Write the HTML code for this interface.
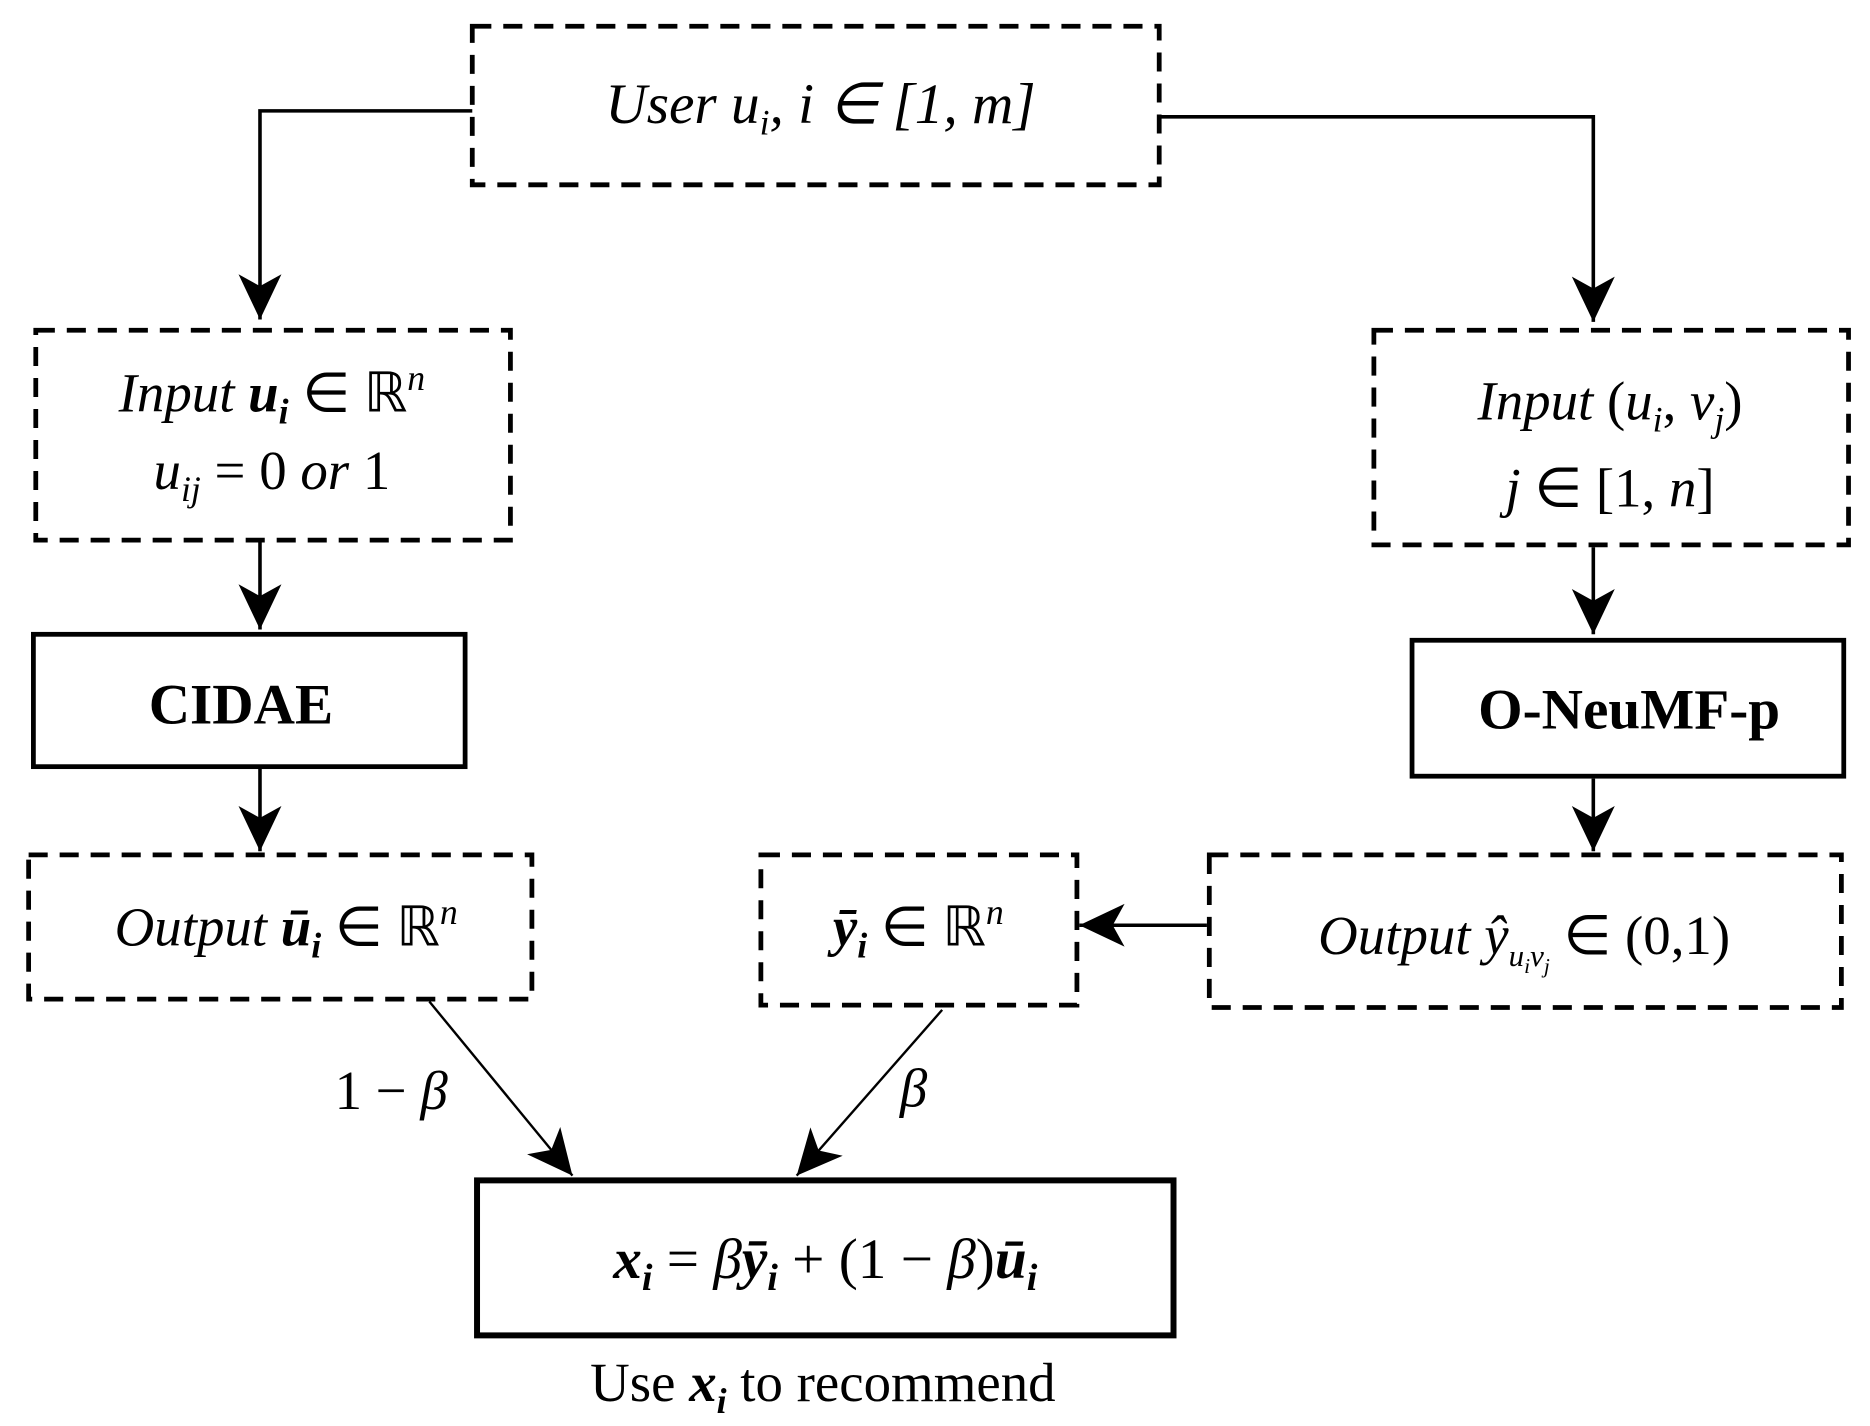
<!DOCTYPE html>
<html><head><meta charset="utf-8"><style>
html,body{margin:0;padding:0;background:#fff;}
svg{display:block}
text{font-family:"Liberation Serif",serif;fill:#000}
.i{font-style:italic}
</style></head><body>
<svg width="1870" height="1426" viewBox="0 0 1568 1196" preserveAspectRatio="none" xmlns="http://www.w3.org/2000/svg">
<defs>
<marker id="a" viewBox="0 0 20 20" refX="18" refY="10" markerWidth="20" markerHeight="20" markerUnits="userSpaceOnUse" orient="auto">
<path d="M0,0 L20,10 L0,20 L6,10 Z" fill="#000"/>
</marker>
<marker id="b" viewBox="0 0 40 40" refX="38" refY="20" markerWidth="40" markerHeight="40" markerUnits="userSpaceOnUse" orient="auto">
<path d="M0,2 L38,20 L0,38 L10,20 Z" fill="#000"/>
</marker>
</defs>
<g fill="none" stroke="#000" stroke-width="4" stroke-dasharray="16,10">
<rect x="396" y="22" width="576" height="133"/>
<rect x="30" y="277" width="398" height="176"/>
<rect x="1152" y="277" width="398" height="180"/>
<rect x="24" y="717" width="422" height="121"/>
<rect x="638" y="717" width="265" height="126"/>
<rect x="1014" y="717" width="530" height="128"/>
</g>
<g fill="none" stroke="#000" stroke-width="4">
<rect x="28" y="532" width="362" height="111"/>
<rect x="1184" y="537" width="362" height="114"/>
<rect x="400" y="990" width="584" height="130" stroke-width="5"/>
</g>
<g fill="none" stroke="#000" stroke-width="3">
<path d="M396,93 H218 V268" marker-end="url(#b)"/>
<path d="M972,98 H1336 V270" marker-end="url(#b)"/>
<path d="M218,455 V528" marker-end="url(#b)"/>
<path d="M1336,459 V532" marker-end="url(#b)"/>
<path d="M218,645 V714" marker-end="url(#b)"/>
<path d="M1336,653 V714" marker-end="url(#b)"/>
<path d="M1012,776 H905" marker-end="url(#b)"/>
<path d="M360,840 L480,986" stroke-width="2" marker-end="url(#b)"/>
<path d="M790,847 L668,986" stroke-width="2" marker-end="url(#b)"/>
</g>
<text x="688" y="103" font-size="48" text-anchor="middle" class="i">User u<tspan font-size="30" dy="10">i</tspan><tspan dy="-10">, i ∈ [1, m]</tspan></text>
<text x="228" y="345" font-size="46" text-anchor="middle"><tspan class="i">Input </tspan><tspan class="i" font-weight="bold">u</tspan><tspan class="i" font-weight="bold" font-size="30" dy="10">i</tspan><tspan dy="-10"> ∈ ℝ</tspan><tspan class="i" font-size="30" dy="-18">n</tspan></text>
<text x="228" y="410" font-size="46" text-anchor="middle"><tspan class="i">u</tspan><tspan class="i" font-size="30" dy="10">ij</tspan><tspan dy="-10"> = 0 </tspan><tspan class="i">or</tspan><tspan> 1</tspan></text>
<text x="1350" y="352" font-size="46" text-anchor="middle"><tspan class="i">Input </tspan><tspan>(</tspan><tspan class="i">u</tspan><tspan class="i" font-size="30" dy="10">i</tspan><tspan dy="-10">, </tspan><tspan class="i">v</tspan><tspan class="i" font-size="30" dy="10">j</tspan><tspan dy="-10">)</tspan></text>
<text x="1350" y="425" font-size="46" text-anchor="middle"><tspan class="i">j</tspan> ∈ [1, <tspan class="i">n</tspan>]</text>
<text x="202" y="607" font-size="48" font-weight="bold" text-anchor="middle">CIDAE</text>
<text x="1366" y="611" font-size="48" font-weight="bold" text-anchor="middle">O-NeuMF-p</text>
<text x="240" y="793" font-size="46" text-anchor="middle"><tspan class="i">Output </tspan><tspan class="i" font-weight="bold">ū</tspan><tspan class="i" font-weight="bold" font-size="30" dy="10">i</tspan><tspan dy="-10"> ∈ ℝ</tspan><tspan class="i" font-size="30" dy="-18">n</tspan></text>
<text x="770" y="793" font-size="46" text-anchor="middle"><tspan class="i" font-weight="bold">ȳ</tspan><tspan class="i" font-weight="bold" font-size="30" dy="10">i</tspan><tspan dy="-10"> ∈ ℝ</tspan><tspan class="i" font-size="30" dy="-18">n</tspan></text>
<text x="1278" y="800" font-size="46" text-anchor="middle"><tspan class="i">Output ŷ</tspan><tspan class="i" font-size="26" dy="10">u</tspan><tspan class="i" font-size="18" dy="6">i</tspan><tspan class="i" font-size="26" dy="-6">v</tspan><tspan class="i" font-size="18" dy="6">j</tspan><tspan dy="-16"> ∈ (0,1)</tspan></text>
<text x="328" y="930" font-size="46" text-anchor="middle">1 − <tspan class="i">β</tspan></text>
<text x="766" y="928" font-size="46" text-anchor="middle" class="i">β</text>
<text x="692" y="1072" font-size="48" text-anchor="middle"><tspan class="i" font-weight="bold">x</tspan><tspan class="i" font-weight="bold" font-size="32" dy="10">i</tspan><tspan dy="-10"> = </tspan><tspan class="i">β</tspan><tspan class="i" font-weight="bold">ȳ</tspan><tspan class="i" font-weight="bold" font-size="32" dy="10">i</tspan><tspan dy="-10"> + (1 − </tspan><tspan class="i">β</tspan><tspan>)</tspan><tspan class="i" font-weight="bold">ū</tspan><tspan class="i" font-weight="bold" font-size="32" dy="10">i</tspan></text>
<text x="690" y="1175" font-size="46" text-anchor="middle">Use <tspan class="i" font-weight="bold">x</tspan><tspan class="i" font-weight="bold" font-size="30" dy="10">i</tspan><tspan dy="-10"> to recommend</tspan></text>
</svg>
</body></html>
